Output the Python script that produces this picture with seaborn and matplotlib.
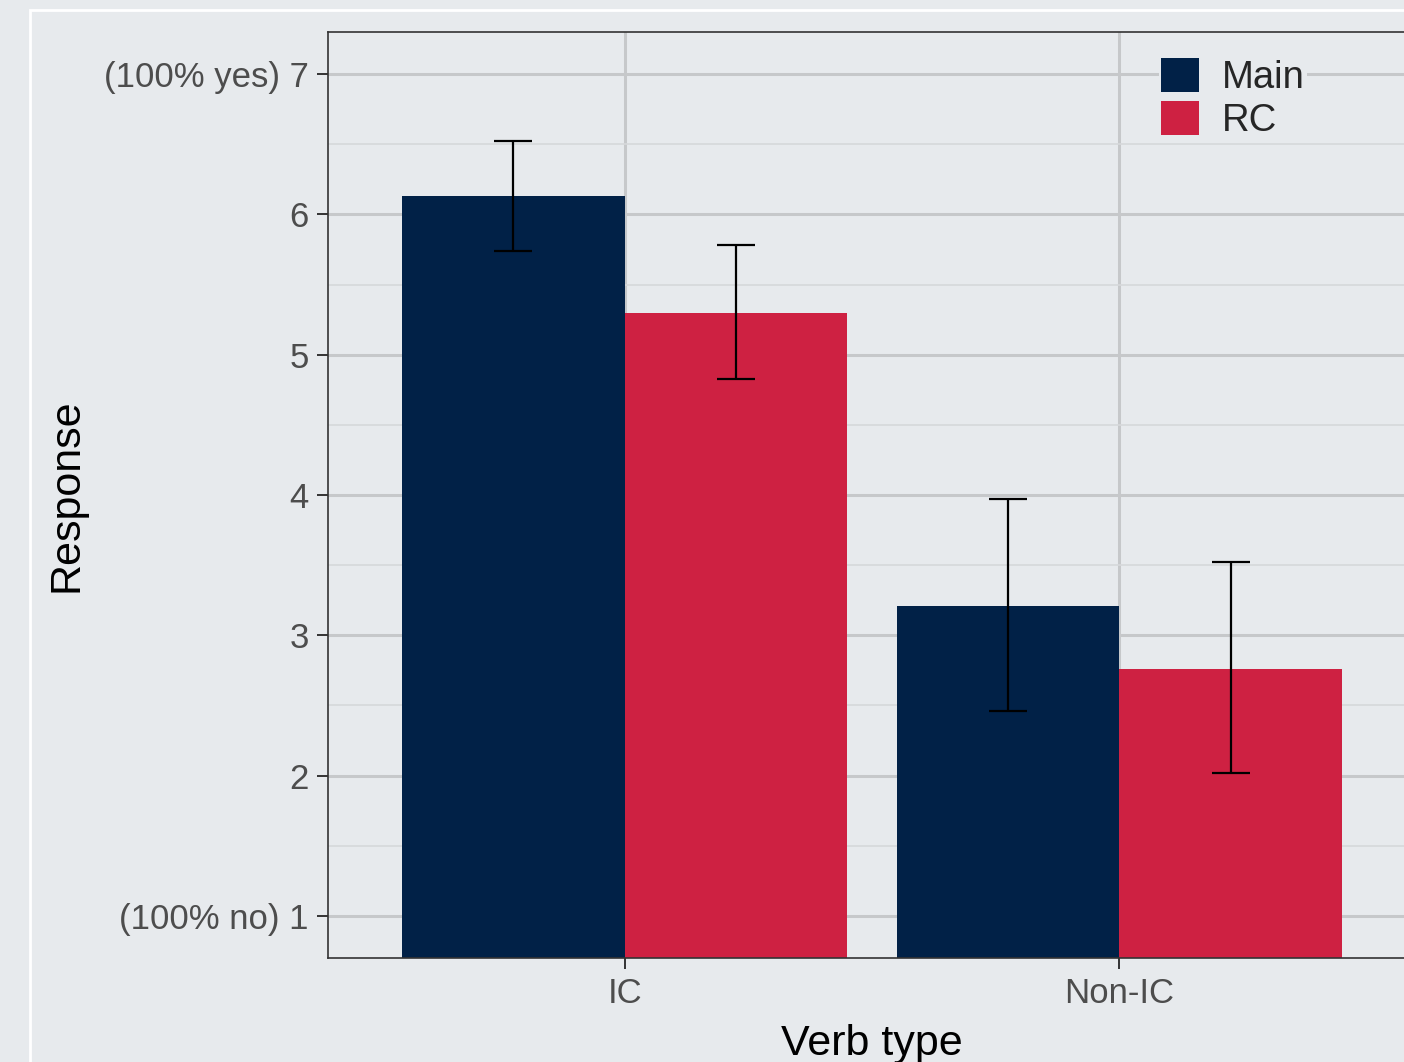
import pandas as pd
import matplotlib.pyplot as plt
import seaborn as sns
from matplotlib.patches import Patch, Rectangle

# values
verb_types = ["IC", "Non-IC"]
clauses = ["Main", "RC"]
means_main = [6.13, 3.21]
means_rc = [5.30, 2.76]
lower_main = [5.74, 2.46]
upper_main = [6.52, 3.97]
lower_rc = [4.83, 2.02]
upper_rc = [5.78, 3.52]
y_ticks = [1, 2, 3, 4, 5, 6, 7]
y_tick_labels = ["(100% no) 1", "2", "3", "4", "5", "6", "(100% yes) 7"]

colors = {"Main": "#012147", "RC": "#ce2142"}
bg = "#e7eaed"

df = pd.DataFrame({
    "verb": verb_types * 2,
    "clause": ["Main"] * 2 + ["RC"] * 2,
    "response": means_main + means_rc,
    "lo": lower_main + lower_rc,
    "hi": upper_main + upper_rc,
})

sns.set_theme(style="white")
plt.rcParams["font.family"] = ["Liberation Sans", "DejaVu Sans"]

fig = plt.figure(figsize=(14.04, 10.62), dpi=100, facecolor=bg)
ax = fig.add_axes([328 / 1404, 1 - 958 / 1062, 1088 / 1404, 926 / 1062])
ax.set_facecolor(bg)

# white frame line like the screenshot border
fig.add_artist(Rectangle((30 / 1404, -0.1), 1.2, 1 - 10 / 1062 + 0.1,
                         transform=fig.transFigure, fill=False,
                         edgecolor="white", linewidth=2, zorder=0))

sns.barplot(data=df, x="verb", y="response", hue="clause", order=verb_types,
            hue_order=clauses, palette=colors, width=0.9, saturation=1,
            errorbar=None, legend=False, linewidth=0, ax=ax, zorder=2)

# error bars placed at bar centres
for bar, (_, row) in zip(ax.patches, df.iterrows()):
    xc = bar.get_x() + bar.get_width() / 2
    ax.errorbar([xc], [row["response"]],
                yerr=[[row["response"] - row["lo"]], [row["hi"] - row["response"]]],
                fmt="none", ecolor="black", elinewidth=1.6, capsize=13.5,
                capthick=1.6, zorder=3)

ax.set_xlim(-0.6, 1.6)
ax.set_ylim(0.7, 7.3)
ax.set_yticks(y_ticks)
ax.set_yticklabels(y_tick_labels)
ax.set_yticks([1.5, 2.5, 3.5, 4.5, 5.5, 6.5], minor=True)

ax.grid(True, which="major", color="#c6c8ca", linewidth=2.2, zorder=0)
ax.grid(True, which="minor", axis="y", color="#d6d8da", linewidth=1.2, zorder=0)
ax.set_axisbelow(True)

for s in ax.spines.values():
    s.set_color("#333333")
    s.set_linewidth(1.2)

ax.tick_params(axis="both", which="major", length=8, width=1.4, color="#333333",
               labelsize=25, labelcolor="#4d4d4d", pad=6, direction="out",
               left=True, bottom=True)
ax.tick_params(axis="y", which="minor", length=0)

ax.set_xlabel("Verb type", fontsize=31, color="black")
ax.set_ylabel("Response", fontsize=31, color="black")
ax.xaxis.set_label_coords(0.5, -0.071)
ax.yaxis.set_label_coords(-0.222, 0.5)

handles = [Patch(facecolor=colors[c], edgecolor="none") for c in clauses]
ax.legend(handles, clauses, loc="upper left",
          bbox_to_anchor=(1159 / 1404, 1 - 56 / 1062),
          bbox_transform=fig.transFigure, fontsize=27.5, frameon=True,
          facecolor=bg, edgecolor="none", framealpha=1, borderpad=0.05,
          borderaxespad=0, handlelength=1.0, handleheight=1.0,
          handletextpad=0.6, labelspacing=0.12)

fig.savefig("out.png", dpi=100, facecolor=bg)
